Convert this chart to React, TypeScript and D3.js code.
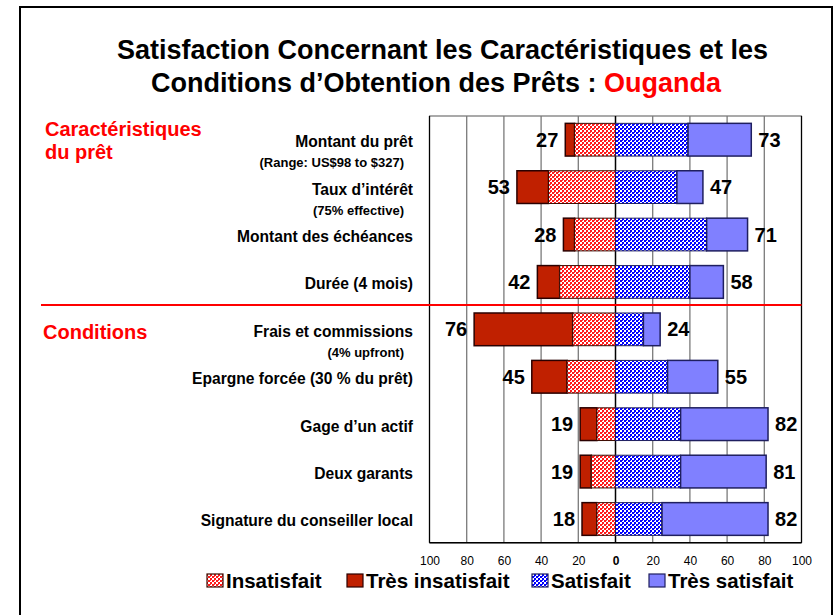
import React, { useEffect, useRef } from 'react';
import * as d3 from 'd3';

// row labels (top to bottom)
const rowLabels = [
  'Montant du prêt',
  'Taux d’intérêt',
  'Montant des échéances',
  'Durée (4 mois)',
  'Frais et commissions',
  'Epargne forcée (30 % du prêt)',
  'Gage d’un actif',
  'Deux garants',
  'Signature du conseiller local',
];
const subLabels = ['(Range: US$98 to $327)', '(75% effective)', '', '', '(4% upfront)', '', '', '', ''];

// percentages
const insatisfait = [22, 36, 22, 30, 23, 26, 10, 13, 10];
const tresInsatisfait = [5, 17, 6, 12, 53, 19, 9, 6, 8];
const satisfait = [39, 33, 49, 40, 15, 28, 35, 35, 25];
const tresSatisfait = [34, 14, 22, 18, 9, 27, 47, 46, 57];

const ticks = [-100, -80, -60, -40, -20, 0, 20, 40, 60, 80, 100];

const legendItems = [
  { label: 'Insatisfait', fill: 'url(#patRed)', stroke: '#3a0a00', x: 207 },
  { label: 'Très insatisfait', fill: '#C02000', stroke: '#2a0000', x: 347 },
  { label: 'Satisfait', fill: 'url(#patBlue)', stroke: '#1f1f5f', x: 532 },
  { label: 'Très satisfait', fill: '#8080FF', stroke: '#1f1f5f', x: 649 },
];

const W = 834;
const H = 615;
const FONT = 'Liberation Sans, Arial, sans-serif';

export default function App() {
  const axisRef = useRef<SVGGElement>(null);

  const x = d3.scaleLinear().domain([-100, 100]).range([429.5, 801.5]);
  const y = d3.scaleBand<string>().domain(rowLabels).range([116, 542.7]).paddingInner(0.31).paddingOuter(0.155);
  const bh = y.bandwidth();

  useEffect(() => {
    const g = d3.select(axisRef.current);
    g.selectAll('*').remove();
    const axis = d3.axisBottom(x).tickValues(ticks).tickSize(0).tickPadding(9)
      .tickFormat((d) => String(Math.abs(+d)));
    g.call(axis);
    g.select('.domain').remove();
    g.selectAll('text')
      .style('font-family', FONT)
      .style('font-size', '12px')
      .style('font-weight', (d: any) => (d === 0 ? 'bold' : 'normal'))
      .attr('fill', '#000');
  }, []);

  return (
    <svg width={W} height={H} style={{ position: 'absolute', left: 0, top: 0, background: '#fff' }} fontFamily={FONT}>
      <defs>
        <pattern id="patRed" width="4" height="4" patternUnits="userSpaceOnUse">
          <rect width="4" height="4" fill="#fff" />
          <rect x="0" y="0" width="2" height="2" fill="#FF1A1A" />
          <rect x="2" y="2" width="2" height="2" fill="#FF1A1A" />
          <rect x="2" y="0" width="1" height="1" fill="#FF4040" />
        </pattern>
        <pattern id="patBlue" width="4" height="4" patternUnits="userSpaceOnUse">
          <rect width="4" height="4" fill="#fff" />
          <rect x="0" y="0" width="2" height="2" fill="#0000FF" />
          <rect x="2" y="2" width="2" height="2" fill="#0000FF" />
          <rect x="2" y="0" width="1" height="1" fill="#2020FF" />
        </pattern>
      </defs>

      {/* slide frame */}
      <rect x={20} y={7} width={812} height={700} fill="none" stroke="#000" strokeWidth={2} />

      {/* title */}
      <text x={442.5} y={59} textAnchor="middle" fontSize={27} fontWeight="bold">
        Satisfaction Concernant les Caractéristiques et les
      </text>
      <text x={436} y={92} textAnchor="middle" fontSize={27} fontWeight="bold">
        Conditions d’Obtention des Prêts : <tspan fill="#FF0000">Ouganda</tspan>
      </text>

      {/* section labels */}
      <text x={45} y={136} fontSize={20} fontWeight="bold" fill="#FF0000">Caractéristiques</text>
      <text x={45} y={159} fontSize={20} fontWeight="bold" fill="#FF0000">du prêt</text>
      <text x={43} y={339} fontSize={20} fontWeight="bold" fill="#FF0000">Conditions</text>

      {/* plot frame + grid */}
      <rect x={x(-100)} y={116} width={x(100) - x(-100)} height={542.7 - 116} fill="#fff" stroke="#555" strokeWidth={1} />
      {ticks.map((t) => (
        <line key={t} x1={x(t)} x2={x(t)} y1={116} y2={542.7}
          stroke={t === 0 || Math.abs(t) === 100 ? '#000' : '#7a7a7a'} strokeWidth={t === 0 ? 1.5 : 1.3} />
      ))}

      {/* bars */}
      {rowLabels.map((r, i) => {
        const y0 = y(r)!;
        const cy = y0 + bh / 2;
        const dis = insatisfait[i] + tresInsatisfait[i];
        const sat = satisfait[i] + tresSatisfait[i];
        return (
          <g key={r}>
            <rect x={x(-dis)} y={y0} width={x(-insatisfait[i]) - x(-dis)} height={bh} fill="#C02000" stroke="#2a0000" strokeWidth={1.5} />
            <rect x={x(-insatisfait[i])} y={y0} width={x(0) - x(-insatisfait[i])} height={bh} fill="url(#patRed)" stroke="#3a0a00" strokeWidth={1} />
            <rect x={x(0)} y={y0} width={x(satisfait[i]) - x(0)} height={bh} fill="url(#patBlue)" stroke="#1f1f5f" strokeWidth={1} />
            <rect x={x(satisfait[i])} y={y0} width={x(sat) - x(satisfait[i])} height={bh} fill="#8080FF" stroke="#1f1f5f" strokeWidth={1.5} />
            <text x={x(-dis) - 7} y={cy} dy="0.35em" textAnchor="end" fontSize={20} fontWeight="bold">{dis}</text>
            <text x={x(sat) + 7} y={cy} dy="0.35em" textAnchor="start" fontSize={20} fontWeight="bold">{sat}</text>
            <text x={413} y={cy + 2} dy="0.35em" textAnchor="end" fontSize={15.6} fontWeight="bold">{r}</text>
            {subLabels[i] && (
              <text x={404} y={cy + 23} dy="0.35em" textAnchor="end" fontSize={13} fontWeight="bold">{subLabels[i]}</text>
            )}
          </g>
        );
      })}

      {/* bottom axis line */}
      <line x1={x(-100)} x2={x(100)} y1={542.7} y2={542.7} stroke="#000" strokeWidth={1.5} />
      <g ref={axisRef} transform="translate(0,547)" />

      {/* separator */}
      <line x1={41} x2={801.5} y1={305} y2={305} stroke="#FF0000" strokeWidth={2} />

      {/* legend */}
      {legendItems.map((l) => (
        <g key={l.label}>
          <rect x={l.x} y={574} width={16} height={13} fill={l.fill} stroke={l.stroke} strokeWidth={1.2} />
          <text x={l.x + 19} y={581} dy="0.35em" fontSize={20.5} fontWeight="bold">{l.label}</text>
        </g>
      ))}
    </svg>
  );
}
